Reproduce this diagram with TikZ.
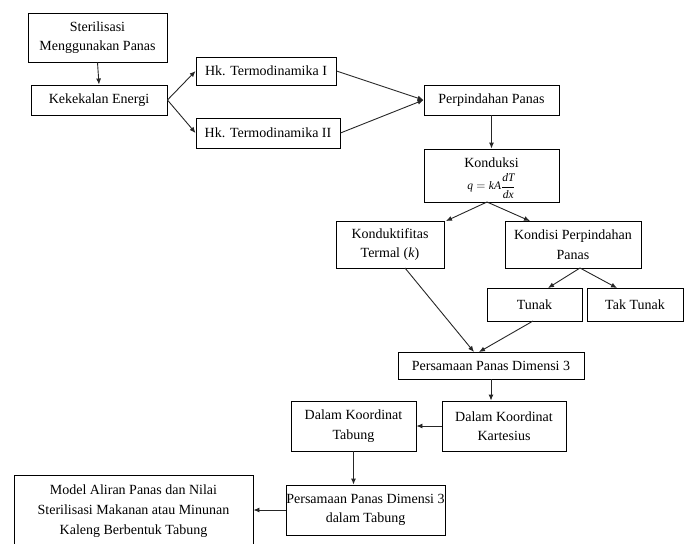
\documentclass[tikz,border=0pt]{standalone}
\usepackage{fontspec}
\usepackage{amsmath}
\setmainfont{Liberation Serif}
\usetikzlibrary{arrows.meta}
\tikzset{
  box/.style={draw=black, line width=0.9pt, inner sep=0pt, align=center,
    font=\fontsize{14}{19.5}\selectfont},
  arr/.style={draw=black!85, line width=0.9pt, -{Latex[length=6pt,width=5pt]}}
}
\begin{document}
\begin{tikzpicture}[x=1pt,y=-1pt]
\useasboundingbox (0,0) rectangle (690,543);
\node[box, minimum width=139pt, minimum height=49pt] (ster) at (97.5,37.5) {Sterilisasi\\Menggunakan Panas};
\node[box, minimum width=136pt, minimum height=30pt] (kek) at (99,100) {Kekekalan Energi};
\node[box, minimum width=140pt, minimum height=28pt] (hk1) at (266,71) {Hk. Termodinamika I};
\node[box, minimum width=144pt, minimum height=30pt] (hk2) at (268,133) {Hk. Termodinamika II};
\node[box, minimum width=135pt, minimum height=30pt] (perp) at (491.5,100) {Perpindahan Panas};
\node[box, minimum width=135pt, minimum height=53pt] (kond) at (491.5,175.5) {};
\node[font=\fontsize{14}{16}\selectfont, inner sep=0pt, anchor=base] (kondt) at (491.5,167) {Konduksi};
\node[font=\fontsize{11.5}{12}\selectfont, inner sep=0pt] (kondf) at (491.5,186) {$\mathit{q} = \mathit{kA}\dfrac{\mathit{dT}}{\mathit{dx}}$};
\node[box, minimum width=108pt, minimum height=47pt] (konduk) at (390,244.5) {Konduktifitas\\Termal (\textit{k})};
\node[box, minimum width=136pt, minimum height=47pt] (kondisi) at (573,244.5) {Kondisi Perpindahan\\Panas};
\node[box, minimum width=95pt, minimum height=33pt] (tunak) at (534.5,304.5) {Tunak};
\node[box, minimum width=96pt, minimum height=33pt] (tak) at (635,304.5) {Tak Tunak};
\node[box, minimum width=186pt, minimum height=27pt] (pers) at (491,365.5) {Persamaan Panas Dimensi 3};
\node[box, minimum width=124pt, minimum height=50pt] (kart) at (504,426) {Dalam Koordinat\\Kartesius};
\node[box, minimum width=125pt, minimum height=50pt] (tab) at (353.5,426) {Dalam Koordinat\\Tabung};
\node[box, minimum width=159pt, minimum height=50pt] (perstab) at (365.5,510) {Persamaan Panas Dimensi 3\\dalam Tabung};
\node[box, minimum width=239pt, minimum height=72pt, anchor=north] (model) at (133.5,475) {};
\node[font=\fontsize{14}{20}\selectfont, align=center, inner sep=0pt] (modelt) at (133.5,511) {Model Aliran Panas dan Nilai\\Sterilisasi Makanan atau Minunan\\Kaleng Berbentuk Tabung};
% connectors
\draw[arr] (ster.south) -- (kek.north);
\draw[arr] (kek.east) -- (hk1.west);
\draw[arr] (kek.east) -- (hk2.west);
\draw[arr] (hk1.east) -- (perp.west);
\draw[arr] (hk2.east) -- (perp.west);
\draw[arr] (perp.south) -- (kond.north);
\coordinate (kb) at (487,202);
\coordinate (kt1) at (446,221);
\coordinate (kt2) at (530,221);
\draw[arr] (kb) -- (kt1);
\draw[arr] (kb) -- (kt2);
\coordinate (kib) at (580,268);
\coordinate (tt1) at (548,288);
\coordinate (tt2) at (617,288);
\draw[arr] (kib) -- (tt1);
\draw[arr] (kib) -- (tt2);
\coordinate (kdb) at (405,268);
\coordinate (tnb) at (533,321);
\coordinate (pt1) at (474,352);
\coordinate (pt2) at (479,352);
\draw[arr] (kdb) -- (pt1);
\draw[arr] (tnb) -- (pt2);
\draw[arr] (pers.south) -- (kart.north -| pers.south);
\draw[arr] (kart.west) -- (tab.east);
\draw[arr] (tab.south) -- (perstab.north -| tab.south);
\draw[arr] (perstab.west) -- (model.east |- perstab.west);
\end{tikzpicture}
\end{document}
